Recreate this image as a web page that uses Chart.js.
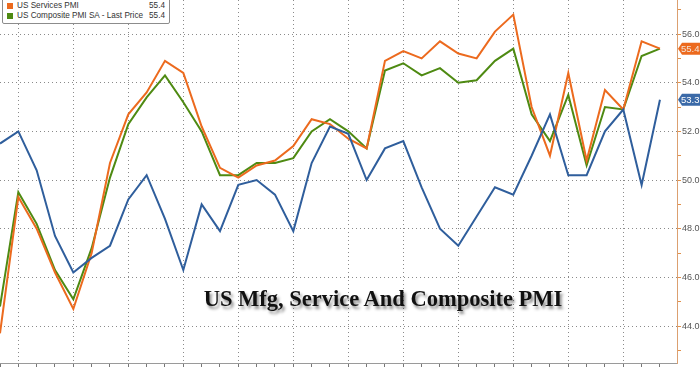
<!DOCTYPE html>
<html><head><meta charset="utf-8">
<script src="https://cdn.jsdelivr.net/npm/chart.js@4/dist/chart.umd.min.js"></script>
<style>
html,body{margin:0;padding:0;background:#fff;overflow:hidden}
#wrap{position:relative;width:700px;height:367px;overflow:hidden}
#c{position:absolute;left:0;top:0}
#legendBox{position:absolute;left:2px;top:-10px;width:166px;height:32px;border:1px solid #8c8c8c;border-radius:2px;background:#fff}
.row{position:absolute;left:0;width:170px;height:10px;line-height:10px;font-family:"Liberation Sans",sans-serif;font-size:8.2px;color:#333;white-space:nowrap}
.sw{position:absolute;left:7px;top:2px;width:6px;height:6px}
.lbl{position:absolute;left:17px;top:0}
.val{position:absolute;right:5px;top:0}
#title{position:absolute;left:383px;top:287px;transform:translateX(-50%);font-family:"Liberation Serif",serif;font-weight:bold;font-size:22.5px;line-height:24px;color:#111;white-space:nowrap;text-shadow:2px 3px 3px rgba(0,0,0,0.45)}
</style>
</head><body>
<div id="wrap">
<canvas id="c" width="700" height="367"></canvas>
<div id="legendBox"></div>
<div id="legendRows"></div>
<div id="title">US Mfg, Service And Composite PMI</div>
</div>
<script>
const categories = ["Aug 22","Sep 22","Oct 22","Nov 22","Dec 22","Jan 23","Feb 23","Mar 23","Apr 23","May 23","Jun 23","Jul 23","Aug 23","Sep 23","Oct 23","Nov 23","Dec 23","Jan 24","Feb 24","Mar 24","Apr 24","May 24","Jun 24","Jul 24","Aug 24","Sep 24","Oct 24","Nov 24","Dec 24","Jan 25","Feb 25","Mar 25","Apr 25","May 25","Jun 25","Jul 25","Aug 25"];
const mfgPMI = [51.5,52.0,50.4,47.7,46.2,46.8,47.3,49.2,50.2,48.4,46.3,49.0,47.9,49.8,50.0,49.4,47.9,50.7,52.2,51.9,50.0,51.3,51.6,49.7,48.0,47.3,48.5,49.7,49.4,51.0,52.7,50.2,50.2,52.0,52.9,49.8,53.3];
const servicesPMI = [43.7,49.3,48.0,46.2,44.7,47.0,50.7,52.7,53.6,54.9,54.4,52.2,50.5,50.1,50.6,50.8,51.4,52.5,52.3,51.7,51.3,54.9,55.3,55.0,55.7,55.2,55.0,56.1,56.8,53.0,51.0,54.4,50.8,53.7,52.9,55.7,55.4];
const compositePMI = [44.8,49.5,48.2,46.3,45.1,47.2,50.1,52.3,53.4,54.3,53.2,52.0,50.2,50.2,50.7,50.7,50.9,52.0,52.5,52.0,51.3,54.5,54.8,54.3,54.6,54.0,54.1,54.9,55.4,52.7,51.6,53.5,50.6,53.0,52.9,55.1,55.4];
const yTickValues = [43,44,45,46,47,48,49,50,51,52,53,54,55,56,57];
const seriesNames = ["US Manufacturing PMI","US Services PMI","US Composite PMI SA - Last Price"];
const seriesColors = ["#2f5e9c","#ec6a1e","#4e8a12"];
const seriesData = [mfgPMI, servicesPMI, compositePMI];

const rowsEl = document.getElementById('legendRows');
const rowTops = [-9, 1, 10.7];
seriesNames.forEach((n,i)=>{
  const last = seriesData[i][seriesData[i].length-1];
  const r = document.createElement('div');
  r.className='row'; r.style.top = rowTops[i]+'px';
  r.innerHTML = '<span class="sw" style="background:'+seriesColors[i]+'"></span><span class="lbl">'+n+'</span><span class="val">'+last.toFixed(1)+'</span>';
  rowsEl.appendChild(r);
});

const badgePlugin = {
  id:'badges',
  afterDraw(chart){
    const ctx = chart.ctx, ys = chart.scales.y, area = chart.chartArea;
    const items = [[1,'#ec6a1e','#f3e6dc'],[0,'#3b6aa8','#ffffff']];
    items.forEach(([di,bg,fg])=>{
      const d = seriesData[di]; const v = d[d.length-1];
      const y = ys.getPixelForValue(v);
      const x0 = area.right + 1, h = 12;
      ctx.save();
      ctx.fillStyle = bg;
      ctx.beginPath();
      ctx.moveTo(x0, y);
      ctx.lineTo(x0+4, y-h/2);
      ctx.lineTo(700, y-h/2);
      ctx.lineTo(700, y+h/2);
      ctx.lineTo(x0+4, y+h/2);
      ctx.closePath(); ctx.fill();
      ctx.fillStyle = fg;
      ctx.font = '9.5px "Liberation Sans", sans-serif';
      ctx.textBaseline='middle'; ctx.textAlign='left';
      ctx.fillText(v.toFixed(1), x0+3, y+0.5);
      ctx.restore();
    });
  }
};

new Chart(document.getElementById('c'), {
  type:'line',
  data:{
    datasets: seriesNames.map((n,i)=>({
      label:n,
      data: seriesData[i].map((v,k)=>({x:k,y:v})),
      borderColor: seriesColors[i],
      backgroundColor: seriesColors[i],
      borderWidth:2, pointRadius:0, tension:0, fill:false
    }))
  },
  options:{
    responsive:false, animation:false, devicePixelRatio:1,
    layout:{padding:0},
    plugins:{legend:{display:false}, tooltip:{enabled:false}},
    scales:{
      x:{type:'linear', min:0, max:36.93, offset:false,
        afterBuildTicks:s=>{ s.ticks = categories.map((c,i)=>({value:i})); },
        ticks:{display:false},
        grid:{color:ctx=>(ctx.tick && ctx.tick.value%3===1)?'#8a8a8a':'rgba(0,0,0,0)', borderDash:[1,3], tickBorderDash:[], tickColor:'#777', tickLength:4, lineWidth:1},
        border:{display:true, color:'#9a9a9a', dash:[1,3]},
        afterFit:s=>{ s.paddingLeft=0; s.paddingRight=0; }
      },
      y:{position:'right', min:42.48, max:57.4,
        afterBuildTicks:s=>{ s.ticks = yTickValues.map(v=>({value:v})); },
        ticks:{callback:v=>(v%2===0)?v.toFixed(1):'', padding:1, color:'#555', font:{family:'Liberation Sans', size:9}},
        grid:{color:ctx=>(ctx.tick && ctx.tick.value%2===0)?'#8a8a8a':'rgba(0,0,0,0)', borderDash:[1,3], tickBorderDash:[], tickColor:'#e0904a', tickLength:4},
        border:{color:'#dca070', dash:[1,3]},
        afterFit:s=>{ s.width=23; s.paddingTop=0; s.paddingBottom=0; }
      }
    }
  },
  plugins:[badgePlugin]
});
</script>
</body></html>
